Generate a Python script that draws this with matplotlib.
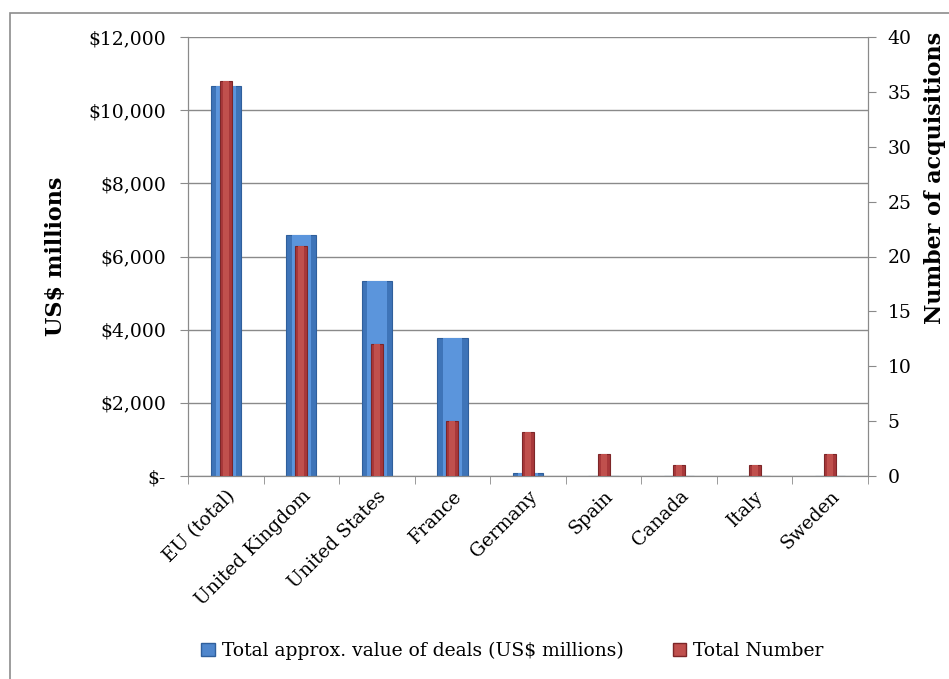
import matplotlib.pyplot as plt
import numpy as np
from matplotlib.patches import Rectangle
from matplotlib.ticker import FuncFormatter

countries = ["EU (total)", "United Kingdom", "United States", "France", "Germany",
             "Spain", "Canada", "Italy", "Sweden"]
deal_value = [10650, 6600, 5330, 3780, 80, 0, 0, 0, 0]
deal_count = [36, 21, 12, 5, 4, 2, 1, 1, 2]

value_label = "Total approx. value of deals (US$ millions)"
count_label = "Total Number"

plt.rcParams["font.family"] = ["DejaVu Serif"]

fig = plt.figure(figsize=(9.49, 6.79), dpi=100)
ax = fig.add_axes([188 / 949, 1 - 476 / 679, 680 / 949, 439 / 679])
ax2 = ax.twinx()

x = np.arange(len(countries))

# outer chart border (cropped at right/bottom like the original)
fig.patches.append(Rectangle((10 / 949, -0.05), 1.0, 1 - 13 / 679 + 0.05,
                             transform=fig.transFigure, fill=False,
                             edgecolor="#8c8c8c", linewidth=1.2))

# primary: deal values (cylinder-ish look with lighter inner bar)
ax.bar(x, deal_value, width=0.40, color="#3e74b8", edgecolor="#2f5f9c",
       linewidth=0.8, zorder=2)
ax.bar(x, deal_value, width=0.26, color="#5b95dc", linewidth=0, zorder=2.1)

# secondary: counts
ax2.bar(x, deal_count, width=0.16, color="#a8383a", edgecolor="#7d2628",
        linewidth=0.8, zorder=3)
ax2.bar(x, deal_count, width=0.08, color="#c0504d", linewidth=0, zorder=3.1)

ax.set_xlim(-0.5, len(countries) - 0.5)
ax.set_ylim(0, 12000)
ax2.set_ylim(0, 40)
ax.set_yticks(np.arange(0, 12001, 2000))
ax2.set_yticks(np.arange(0, 41, 5))


def dollars(v, pos):
    return "$-" if v == 0 else f"${v:,.0f}"


ax.yaxis.set_major_formatter(FuncFormatter(dollars))
ax.yaxis.grid(True, color="#8a8a8a", linewidth=1.0, zorder=0)
ax.set_axisbelow(True)

ax.set_xticks(x)
ax.set_xticklabels(countries, rotation=45, ha="right", rotation_mode="anchor",
                   fontsize=13.5)
ax.set_xticks(np.arange(-0.5, len(countries)), minor=True)
ax.tick_params(axis="x", which="major", length=0, pad=8)
ax.tick_params(axis="x", which="minor", length=6, color="#8a8a8a")
ax.tick_params(axis="y", length=6, color="#8a8a8a", labelsize=13.5, pad=10)
ax2.tick_params(axis="y", length=6, color="#8a8a8a", labelsize=13.5, pad=8)

for a in (ax, ax2):
    a.spines["top"].set_visible(False)
    for s in ("left", "right", "bottom"):
        a.spines[s].set_color("#8a8a8a")

# axis titles placed directly (right one sits high, as in the original)
fig.text(56 / 949, 1 - 256 / 679, "US$ millions", rotation=90, fontsize=16,
         fontweight="bold", ha="center", va="center")
fig.text(935 / 949, 1 - 178 / 679, "Number of acquisitions", rotation=90,
         fontsize=16, fontweight="bold", ha="center", va="center")

handles = [Rectangle((0, 0), 1, 1, facecolor="#4f86cc", edgecolor="#2f5f9c"),
           Rectangle((0, 0), 1, 1, facecolor="#c0504d", edgecolor="#7d2628")]
fig.legend(handles, [value_label, count_label], loc="center",
           bbox_to_anchor=(0.54, 1 - 651 / 679), ncol=2, frameon=False,
           fontsize=13.5, handlelength=0.7, handleheight=0.7,
           handletextpad=0.4, columnspacing=2.6)

fig.savefig("out.png", dpi=100)
